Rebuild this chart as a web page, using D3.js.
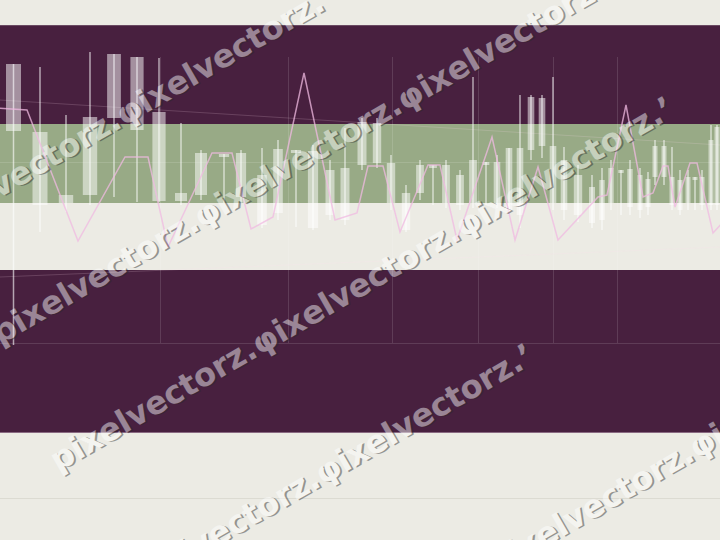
<!DOCTYPE html>
<html><head><meta charset="utf-8">
<script src="https://cdn.jsdelivr.net/npm/d3@7"></script>
<style>html,body{margin:0;padding:0;background:#ecebe4;}svg{display:block;}</style>
</head><body>
<script>
// ---------- data ----------
const bandNames = ["frame","upper","lower"];
const bandLow  = [0,   230, 163];
const bandHigh = [408, 309, 230];

const gridT = [16.0, 28.8, 39.2, 47.8, 55.3, 61.7];
const gridV = [90, 271];

const trendT0 = [0, 0];
const trendV0 = [333, 156];
const trendT1 = [72, 72];
const trendV1 = [288, 186];

const candleT = [1.35,4.0,6.6,9.0,11.4,13.7,15.9,18.1,20.1,22.4,24.1,26.2,27.8,29.6,31.3,33.0,34.5,36.2,37.7,39.1,40.6,42.0,43.3,44.6,46.0,47.3,48.6,49.7,50.9,52.0,53.1,54.2,55.3,56.4,57.8,59.2,60.2,61.1,62.1,63.0,64.0,64.8,65.5,66.4,67.2,68.0,68.8,69.5,70.2,71.1,71.7];
const bodyTop = [369,301,238,316,379,376,321,240,280,279,280,258,284,283,282,263,265,311,310,270,240,268,268,268,258,273,271,271,285,285,336,335,287,273,258,246,253,265,263,264,258,254,287,287,256,253,256,256,256,293,306];
const bodyBot = [302,228,230,238,315,303,232,232,238,276,236,208,220,280,205,218,213,268,270,230,203,240,265,230,228,230,268,230,223,218,283,287,230,223,218,210,213,230,260,226,223,226,256,256,228,223,230,253,228,228,228];
const high    = [369,366,318,381,379,376,375,310,283,279,283,285,293,283,288,273,305,315,315,278,248,273,268,273,263,356,271,278,285,338,338,338,356,286,268,258,265,273,263,273,265,261,293,293,286,263,263,256,263,308,308];
const low     = [88,201,221,228,236,231,231,228,233,230,230,205,213,206,203,213,208,263,265,223,201,233,228,225,223,225,228,225,218,205,273,275,223,213,211,205,203,223,218,218,215,218,248,248,223,218,223,223,223,223,223];

const lineT = [-0.5,2.7,7.8,12.5,14.8,16.8,21.2,23.2,25.1,27.3,30.4,33.5,35.7,36.8,38.3,40.0,42.8,44.0,45.7,49.2,51.5,53.8,55.8,59.8,60.7,62.6,64.3,65.3,66.3,66.8,67.5,69.0,69.7,71.3,72.5];
const lineV = [325,323,192,276,276,186,280,280,204,216,360,213,220,267,267,201,268,268,193,296,193,266,193,236,238,328,236,240,267,267,226,270,270,200,213];

const watermarkTiles = ["pixelvectorz.", "φixelvectorz.", "φixelvectorz.ʼ"];
const watermarkRowX = [-281, 0, 58, -82, 292];
const watermarkRowY = [360, 345, 472, 719, 693];

// ---------- styles ----------
const bandColors = ["#48203f", "#98aa86", "#ecebe4"];

// ---------- drawing ----------
const W = 720, H = 540;
const svg = d3.select("body").append("svg").attr("width", W).attr("height", H);
const x = d3.scaleLinear().domain([0, 72]).range([0, 720]);
const y = d3.scaleLinear().domain([0, 408]).range([433, 25]);

svg.append("rect").attr("width", W).attr("height", H).attr("fill", "#ecebe4");
svg.append("line").attr("x1", 0).attr("x2", W).attr("y1", 498.5).attr("y2", 498.5)
  .attr("stroke", "#dcdbd2").attr("stroke-width", 1);

const bands = bandNames.map((n, i) => ({n, lo: bandLow[i], hi: bandHigh[i], c: bandColors[i]}));
svg.append("g").selectAll("rect").data(bands).join("rect")
  .attr("x", 0).attr("width", W)
  .attr("y", d => y(d.hi)).attr("height", d => y(d.lo) - y(d.hi))
  .attr("fill", d => d.c);
svg.append("line").attr("x1",0).attr("x2",W).attr("y1",y(408)+0.5).attr("y2",y(408)+0.5).attr("stroke","#6a4a62").attr("stroke-width",1);
svg.append("line").attr("x1",0).attr("x2",W).attr("y1",y(0)-0.5).attr("y2",y(0)-0.5).attr("stroke","#8a6a82").attr("stroke-width",1);

// gridlines
const grid = svg.append("g").attr("stroke", "rgba(255,255,255,0.13)").attr("stroke-width", 1);
grid.selectAll(".gv").data(gridT).join("line")
  .attr("x1", d => Math.round(x(d)) + 0.5).attr("x2", d => Math.round(x(d)) + 0.5)
  .attr("y1", y(376)).attr("y2", y(90));
grid.selectAll(".gh").data(gridV).join("line")
  .attr("x1", 0).attr("x2", W)
  .attr("y1", d => Math.round(y(d)) + 0.5).attr("y2", d => Math.round(y(d)) + 0.5);
grid.selectAll(".tr").data(trendT0.map((t, i) => i)).join("line")
  .attr("x1", i => x(trendT0[i])).attr("y1", i => y(trendV0[i]))
  .attr("x2", i => x(trendT1[i])).attr("y2", i => y(trendV1[i]))
  .attr("stroke", "rgba(255,220,240,0.18)");

// candles
const candles = candleT.map((t, i) => ({t, top: bodyTop[i], bot: bodyBot[i], hi: high[i], lo: low[i]}));
candles.forEach((c, i) => {
  const gaps = [];
  if (i > 0) gaps.push(x(c.t) - x(candleT[i - 1]));
  if (i < candleT.length - 1) gaps.push(x(candleT[i + 1]) - x(c.t));
  c.w = Math.max(5, Math.min(15, 0.6 * d3.min(gaps)));
});
const cg = svg.append("g");
cg.selectAll(".wick").data(candles).join("line")
  .attr("x1", d => x(d.t)).attr("x2", d => x(d.t))
  .attr("y1", d => y(d.hi)).attr("y2", d => y(d.lo))
  .attr("stroke", "rgba(255,255,255,0.6)").attr("stroke-width", 1.5);
cg.selectAll(".body").data(candles).join("rect")
  .attr("x", d => x(d.t) - d.w / 2).attr("width", d => d.w)
  .attr("y", d => y(d.top)).attr("height", d => Math.max(3, y(d.bot) - y(d.top)))
  .attr("fill", "rgba(255,255,255,0.5)");

// pink line
const line = d3.line().x((d, i) => x(lineT[i])).y((d, i) => y(lineV[i]));
svg.append("path").attr("d", line(lineT))
  .attr("fill", "none").attr("stroke", "rgba(240,185,225,0.75)").attr("stroke-width", 1.5);

// watermark
const wm = svg.append("g").attr("opacity", 0.45)
  .attr("font-family", "DejaVu Sans").attr("font-weight", "bold").attr("font-size", 32);
watermarkRowX.forEach((rx, r) => {
  const g = wm.append("g").attr("transform", `translate(${rx},${watermarkRowY[r]}) rotate(-30)`);
  let off = 0;
  watermarkTiles.forEach(tx => {
    g.append("text").attr("x", off + 1.5).attr("y", 1.5).attr("fill", "#2a2a2a").text(tx);
    const t = g.append("text").attr("x", off).attr("y", 0).attr("fill", "#ffffff").text(tx);
    off += t.node().getComputedTextLength();
  });
});
</script>
</body></html>
